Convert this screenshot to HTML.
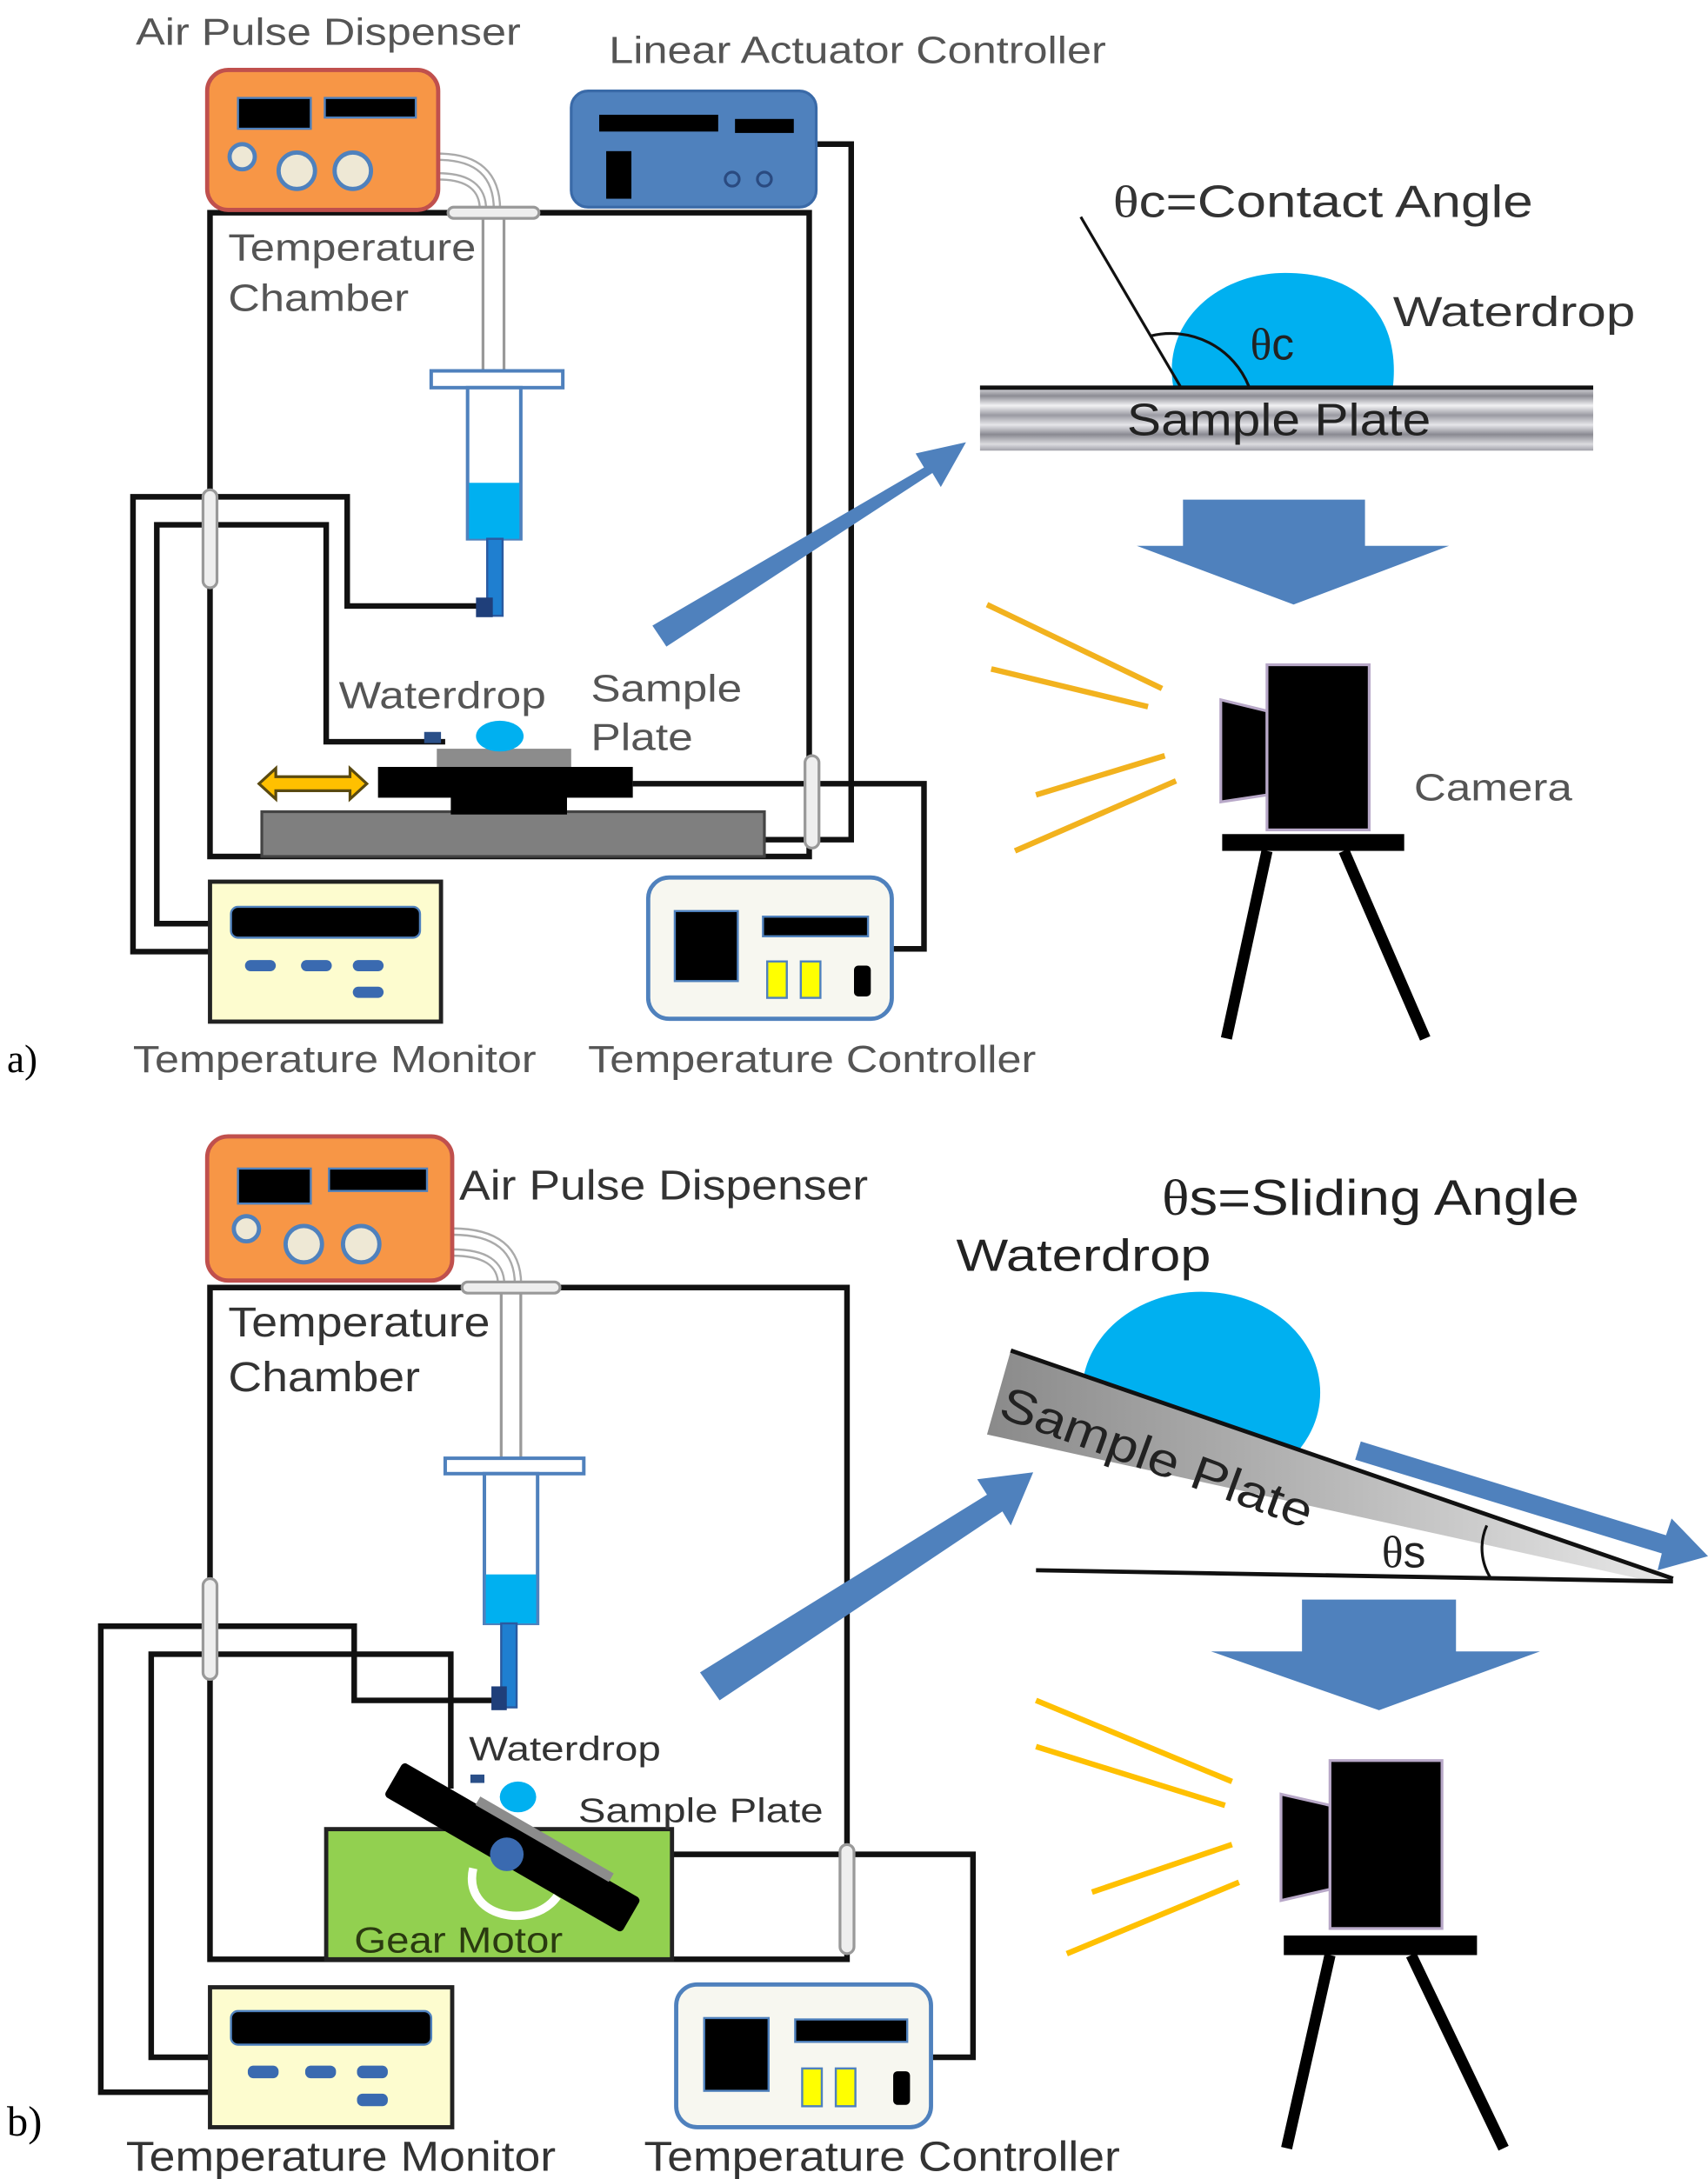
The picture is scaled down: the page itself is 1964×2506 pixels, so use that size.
<!DOCTYPE html>
<html><head><meta charset="utf-8"><style>
html,body{margin:0;padding:0;background:#fff;}
svg{display:block;}
text{font-family:"Liberation Sans",sans-serif;}
</style></head><body>
<svg width="1964" height="2506" viewBox="0 0 1220 1557" preserveAspectRatio="none" xmlns="http://www.w3.org/2000/svg">
<defs>
<linearGradient id="plateG" x1="0" y1="0" x2="0" y2="1">
<stop offset="0" stop-color="#e8e8ec"/><stop offset="0.15" stop-color="#8c8c94"/><stop offset="0.3" stop-color="#f2f2f4"/><stop offset="0.45" stop-color="#9a9aa2"/><stop offset="0.6" stop-color="#e6e6ea"/><stop offset="0.75" stop-color="#8a8a92"/><stop offset="0.9" stop-color="#dcdce0"/><stop offset="1" stop-color="#a0a0a8"/>
</linearGradient>
<linearGradient id="plateG2" x1="0" y1="0" x2="1" y2="0">
<stop offset="0" stop-color="#8a8a8a"/><stop offset="0.5" stop-color="#b8b8b8"/><stop offset="1" stop-color="#e8e8e8"/>
</linearGradient>
<clipPath id="aboveLine"><polygon points="600,800 1220,800 1220,1136 600,923"/></clipPath>
</defs>

<!-- ================= PART A ================= -->
<g fill="none" stroke="#111" stroke-width="4">
<rect x="150" y="152" width="428" height="460"/>
<polyline points="150,680 95,680 95,355 248,355 248,433 342,433"/>
<polyline points="150,660 112,660 112,375 233,375 233,530 318,530"/>
<polyline points="583,103 608,103 608,600 546,600"/>
<polyline points="452,560 660,560 660,678 637,678"/>
</g>
<path d="M313,112 Q355,112 355,150 M313,126 Q345,126 345,150" fill="none" stroke="#aaa" stroke-width="6"/>
<path d="M313,112 Q355,112 355,150 M313,126 Q345,126 345,150" fill="none" stroke="#fff" stroke-width="3"/>
<rect x="320" y="148" width="65" height="8" rx="4" fill="#eee" stroke="#999" stroke-width="2"/>
<g stroke="#999" stroke-width="2"><line x1="345" y1="156" x2="345" y2="265"/><line x1="360" y1="156" x2="360" y2="265"/></g>
<rect x="308" y="265" width="94" height="12" fill="#fff" stroke="#4f81bd" stroke-width="2.5"/>
<rect x="334" y="277" width="38" height="108" fill="#fff" stroke="#4f81bd" stroke-width="2.5"/>
<rect x="335" y="345" width="36" height="40" fill="#00b0f0"/>
<rect x="348" y="385" width="11" height="55" fill="#1f7fd0" stroke="#2a5aa0" stroke-width="1.5"/>
<rect x="340" y="427" width="12" height="14" fill="#1f3f7a"/>
<rect x="145" y="350" width="10" height="70" rx="5" fill="#eee" stroke="#999" stroke-width="2"/>
<rect x="575" y="540" width="10" height="66" rx="5" fill="#eee" stroke="#999" stroke-width="2"/>
<rect x="187" y="580" width="359" height="32" fill="#7f7f7f" stroke="#444" stroke-width="2"/>
<rect x="322" y="566" width="83" height="16" fill="#000"/>
<rect x="270" y="548" width="182" height="22" fill="#000"/>
<rect x="312" y="535" width="96" height="13" fill="#8c8c8c"/>
<rect x="303" y="523" width="12" height="8" fill="#2a4f88"/>
<ellipse cx="357" cy="526" rx="17" ry="11" fill="#00b0f0"/>
<polygon points="185,560 197,549 197,555 250,555 250,549 262,560 250,571 250,565 197,565 197,571" fill="#ffc000" stroke="#5a4a10" stroke-width="2"/>
<rect x="148" y="50" width="165" height="100" rx="15" fill="#f79646" stroke="#c0504d" stroke-width="3"/>
<rect x="170" y="70" width="52" height="22" fill="#000" stroke="#4f81bd" stroke-width="1.5"/>
<rect x="232" y="70" width="65" height="14" fill="#000" stroke="#4f81bd" stroke-width="1.5"/>
<circle cx="173" cy="112" r="9" fill="#eee8d5" stroke="#4f81bd" stroke-width="3"/>
<circle cx="212" cy="122" r="13" fill="#eee8d5" stroke="#4f81bd" stroke-width="3"/>
<circle cx="252" cy="122" r="13" fill="#eee8d5" stroke="#4f81bd" stroke-width="3"/>
<rect x="408" y="65" width="175" height="83" rx="12" fill="#4f81bd" stroke="#3a6aa8" stroke-width="2"/>
<rect x="428" y="82" width="85" height="12" fill="#000"/>
<rect x="525" y="85" width="42" height="10" fill="#000"/>
<rect x="433" y="108" width="18" height="34" fill="#000"/>
<circle cx="523" cy="128" r="5" fill="none" stroke="#2a4a80" stroke-width="2"/>
<circle cx="546" cy="128" r="5" fill="none" stroke="#2a4a80" stroke-width="2"/>
<rect x="150" y="630" width="165" height="100" fill="#fdfccf" stroke="#222" stroke-width="3"/>
<rect x="165" y="648" width="135" height="22" rx="5" fill="#000" stroke="#4f81bd" stroke-width="1.5"/>
<g fill="#3a6ab0"><rect x="175" y="686" width="22" height="8" rx="4"/><rect x="215" y="686" width="22" height="8" rx="4"/><rect x="252" y="686" width="22" height="8" rx="4"/><rect x="252" y="705" width="22" height="8" rx="4"/></g>
<rect x="463" y="627" width="174" height="101" rx="15" fill="#f7f7f0" stroke="#4f81bd" stroke-width="3"/>
<rect x="482" y="651" width="45" height="50" fill="#000" stroke="#4f81bd" stroke-width="1.5"/>
<rect x="545" y="655" width="75" height="14" fill="#000" stroke="#4f81bd" stroke-width="1.5"/>
<rect x="548" y="687" width="14" height="26" fill="#ffff00" stroke="#4f81bd" stroke-width="1.5"/>
<rect x="572" y="687" width="14" height="26" fill="#ffff00" stroke="#4f81bd" stroke-width="1.5"/>
<rect x="610" y="690" width="12" height="22" rx="3" fill="#000"/>
<g fill="#555" font-size="27" lengthAdjust="spacingAndGlyphs">
<text x="97" y="32" textLength="275" lengthAdjust="spacingAndGlyphs">Air Pulse Dispenser</text>
<text x="435" y="45" textLength="355" lengthAdjust="spacingAndGlyphs">Linear Actuator Controller</text>
<text x="163" y="186" textLength="177" lengthAdjust="spacingAndGlyphs">Temperature</text>
<text x="163" y="222" textLength="129" lengthAdjust="spacingAndGlyphs">Chamber</text>
<text x="242" y="506" textLength="148" lengthAdjust="spacingAndGlyphs">Waterdrop</text>
<text x="422" y="501" textLength="108" lengthAdjust="spacingAndGlyphs">Sample</text>
<text x="422" y="536" textLength="73" lengthAdjust="spacingAndGlyphs">Plate</text>
<text x="95" y="766" textLength="288" lengthAdjust="spacingAndGlyphs">Temperature Monitor</text>
<text x="420" y="766" textLength="320" lengthAdjust="spacingAndGlyphs">Temperature Controller</text>
<text x="1010" y="572" textLength="113" lengthAdjust="spacingAndGlyphs">Camera</text>
</g>
<text x="5" y="766" font-size="28" fill="#000" style="font-family:'Liberation Serif',serif">a)</text>
<polygon points="466,447 660,334 654,324 690,316 672,348 666,338 476,462" fill="#4f81bd"/>
<path d="M838,276 C830,230 870,195 918,195 C975,195 1000,230 995,276 Z" fill="#00b0f0"/>
<line x1="772" y1="155" x2="843" y2="276" stroke="#111" stroke-width="2"/>
<path d="M822,240 A60,60 0 0 1 892,276" fill="none" stroke="#111" stroke-width="2"/>
<rect x="700" y="276" width="438" height="46" fill="url(#plateG)"/>
<line x1="700" y1="277" x2="1138" y2="277" stroke="#111" stroke-width="3"/>
<text x="805" y="311" font-size="32" fill="#222" textLength="217" lengthAdjust="spacingAndGlyphs">Sample Plate</text>
<text x="795" y="155" font-size="32" fill="#333" textLength="300" lengthAdjust="spacingAndGlyphs"><tspan style="font-family:'Liberation Serif',serif">θ</tspan>c=Contact Angle</text>
<text x="893" y="257" font-size="32" fill="#222"><tspan style="font-family:'Liberation Serif',serif">θ</tspan>c</text>
<text x="995" y="233" font-size="30" fill="#333" textLength="173" lengthAdjust="spacingAndGlyphs">Waterdrop</text>
<polygon points="845,357 975,357 975,390 1035,390 924,432 812,390 845,390" fill="#4f81bd"/>
<g stroke="#f2b21e" stroke-width="4"><line x1="705" y1="432" x2="830" y2="492"/><line x1="708" y1="478" x2="820" y2="505"/><line x1="740" y1="568" x2="832" y2="540"/><line x1="725" y1="608" x2="840" y2="558"/></g>
<polygon points="872,500 905,508 905,568 872,573" fill="#000" stroke="#b8a8c8" stroke-width="2"/>
<rect x="905" y="475" width="73" height="118" fill="#000" stroke="#b8a8c8" stroke-width="2"/>
<rect x="873" y="596" width="130" height="12" fill="#000"/>
<g stroke="#000" stroke-width="8"><line x1="905" y1="608" x2="876" y2="742"/><line x1="960" y1="608" x2="1018" y2="742"/></g>

<!-- ================= PART B ================= -->
<g fill="none" stroke="#111" stroke-width="4">
<rect x="150" y="920" width="455" height="480"/>
<polyline points="150,1495 72,1495 72,1162 253,1162 253,1215 355,1215"/>
<polyline points="150,1470 108,1470 108,1182 322,1182 322,1278"/>
<polyline points="430,1325 695,1325 695,1470 665,1470"/>
</g>
<path d="M323,880 Q370,880 370,918 M323,895 Q358,895 358,918" fill="none" stroke="#aaa" stroke-width="6"/>
<path d="M323,880 Q370,880 370,918 M323,895 Q358,895 358,918" fill="none" stroke="#fff" stroke-width="3"/>
<rect x="330" y="916" width="70" height="8" rx="4" fill="#eee" stroke="#999" stroke-width="2"/>
<g stroke="#999" stroke-width="2"><line x1="358" y1="924" x2="358" y2="1042"/><line x1="372" y1="924" x2="372" y2="1042"/></g>
<rect x="318" y="1042" width="99" height="11" fill="#fff" stroke="#4f81bd" stroke-width="2.5"/>
<rect x="346" y="1053" width="38" height="107" fill="#fff" stroke="#4f81bd" stroke-width="2.5"/>
<rect x="347" y="1125" width="36" height="35" fill="#00b0f0"/>
<rect x="358" y="1160" width="11" height="60" fill="#1f7fd0" stroke="#2a5aa0" stroke-width="1.5"/>
<rect x="351" y="1205" width="11" height="17" fill="#1f3f7a"/>
<rect x="145" y="1128" width="10" height="72" rx="5" fill="#eee" stroke="#999" stroke-width="2"/>
<rect x="600" y="1318" width="10" height="78" rx="5" fill="#eee" stroke="#999" stroke-width="2"/>
<rect x="233" y="1307" width="247" height="93" fill="#92d050" stroke="#222" stroke-width="3"/>
<g transform="translate(366,1320) rotate(30)">
<rect x="-98" y="-14" width="196" height="28" rx="3" fill="#000"/>
<rect x="-38" y="-20" width="110" height="7" fill="#8c8c8c"/>
</g>
<path d="M338,1335 C330,1370 380,1380 398,1355" fill="none" stroke="#fff" stroke-width="6"/>
<circle cx="362" cy="1325" r="12" fill="#3a6ab0"/>
<ellipse cx="370" cy="1284" rx="13" ry="11" fill="#00b0f0"/>
<rect x="336" y="1268" width="10" height="6" fill="#2a4f88"/>
<text x="253" y="1395" font-size="26" fill="#2a3a10" textLength="149" lengthAdjust="spacingAndGlyphs">Gear Motor</text>
<rect x="148" y="812" width="175" height="103" rx="15" fill="#f79646" stroke="#c0504d" stroke-width="3"/>
<rect x="170" y="835" width="52" height="25" fill="#000" stroke="#4f81bd" stroke-width="1.5"/>
<rect x="235" y="835" width="70" height="16" fill="#000" stroke="#4f81bd" stroke-width="1.5"/>
<circle cx="176" cy="878" r="9" fill="#eee8d5" stroke="#4f81bd" stroke-width="3"/>
<circle cx="217" cy="889" r="13" fill="#eee8d5" stroke="#4f81bd" stroke-width="3"/>
<circle cx="258" cy="889" r="13" fill="#eee8d5" stroke="#4f81bd" stroke-width="3"/>
<rect x="150" y="1420" width="173" height="100" fill="#fdfccf" stroke="#222" stroke-width="3"/>
<rect x="165" y="1437" width="143" height="24" rx="5" fill="#000" stroke="#4f81bd" stroke-width="1.5"/>
<g fill="#3a6ab0"><rect x="177" y="1476" width="22" height="9" rx="4"/><rect x="218" y="1476" width="22" height="9" rx="4"/><rect x="255" y="1476" width="22" height="9" rx="4"/><rect x="255" y="1496" width="22" height="9" rx="4"/></g>
<rect x="483" y="1418" width="182" height="102" rx="15" fill="#f7f7f0" stroke="#4f81bd" stroke-width="3"/>
<rect x="503" y="1442" width="46" height="52" fill="#000" stroke="#4f81bd" stroke-width="1.5"/>
<rect x="568" y="1443" width="80" height="16" fill="#000" stroke="#4f81bd" stroke-width="1.5"/>
<rect x="573" y="1478" width="14" height="27" fill="#ffff00" stroke="#4f81bd" stroke-width="1.5"/>
<rect x="597" y="1478" width="14" height="27" fill="#ffff00" stroke="#4f81bd" stroke-width="1.5"/>
<rect x="638" y="1480" width="12" height="24" rx="3" fill="#000"/>
<g fill="#333" font-size="30">
<text x="328" y="857" textLength="292" lengthAdjust="spacingAndGlyphs">Air Pulse Dispenser</text>
<text x="163" y="955" textLength="187" lengthAdjust="spacingAndGlyphs">Temperature</text>
<text x="163" y="994" textLength="137" lengthAdjust="spacingAndGlyphs">Chamber</text>
<text x="90" y="1551" textLength="307" lengthAdjust="spacingAndGlyphs">Temperature Monitor</text>
<text x="460" y="1551" textLength="340" lengthAdjust="spacingAndGlyphs">Temperature Controller</text>
</g>
<g fill="#333" font-size="24">
<text x="335" y="1258" textLength="137" lengthAdjust="spacingAndGlyphs">Waterdrop</text>
<text x="413" y="1302" textLength="175" lengthAdjust="spacingAndGlyphs">Sample Plate</text>
</g>
<text x="5" y="1526" font-size="30" fill="#000" style="font-family:'Liberation Serif',serif">b)</text>
<polygon points="500,1195 705,1068 698,1057 738,1052 722,1090 716,1080 514,1215" fill="#4f81bd"/>
<!-- sliding angle diagram -->
<ellipse cx="858" cy="995" rx="85" ry="72" fill="#00b0f0" clip-path="url(#aboveLine)"/>
<polygon points="722,965 1195,1128 1180,1130 705,1025" fill="url(#plateG2)"/>
<line x1="722" y1="965" x2="1195" y2="1128" stroke="#111" stroke-width="3"/>
<line x1="740" y1="1122" x2="1195" y2="1130" stroke="#111" stroke-width="3"/>
<text transform="translate(712,1012) rotate(20)" font-size="34" fill="#222" textLength="235" lengthAdjust="spacingAndGlyphs">Sample Plate</text>
<text x="987" y="1120" font-size="32" fill="#222"><tspan style="font-family:'Liberation Serif',serif">θ</tspan>s</text>
<path d="M1062,1090 A40,40 0 0 0 1065,1128" fill="none" stroke="#111" stroke-width="2"/>
<polygon points="972,1030 1190,1097 1194,1085 1220,1112 1184,1122 1187,1110 968,1043" fill="#4f81bd"/>
<text x="830" y="868" font-size="36" fill="#222" textLength="298" lengthAdjust="spacingAndGlyphs"><tspan style="font-family:'Liberation Serif',serif">θ</tspan>s=Sliding Angle</text>
<text x="683" y="908" font-size="32" fill="#222" textLength="182" lengthAdjust="spacingAndGlyphs">Waterdrop</text>
<polygon points="930,1143 1040,1143 1040,1180 1100,1180 985,1222 865,1180 930,1180" fill="#4f81bd"/>
<g stroke="#ffc000" stroke-width="4"><line x1="740" y1="1215" x2="880" y2="1273"/><line x1="740" y1="1248" x2="875" y2="1290"/><line x1="780" y1="1352" x2="880" y2="1318"/><line x1="762" y1="1396" x2="885" y2="1345"/></g>
<polygon points="915,1282 950,1290 950,1350 915,1358" fill="#000" stroke="#b8a8c8" stroke-width="2"/>
<rect x="950" y="1258" width="80" height="120" fill="#000" stroke="#b8a8c8" stroke-width="2"/>
<rect x="917" y="1383" width="138" height="14" fill="#000"/>
<g stroke="#000" stroke-width="8"><line x1="950" y1="1397" x2="919" y2="1535"/><line x1="1008" y1="1397" x2="1074" y2="1535"/></g>
</svg>
</body></html>
